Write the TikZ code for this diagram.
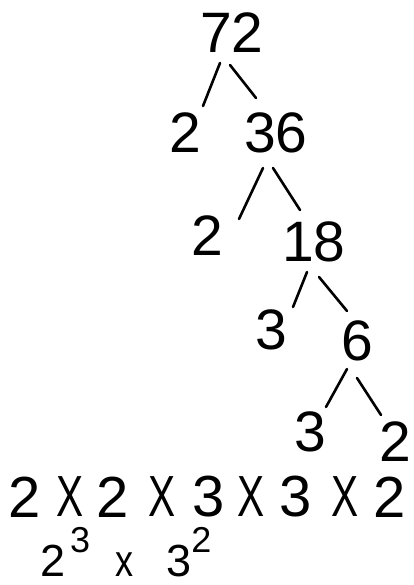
\documentclass[tikz,border=0pt]{standalone}
\usepackage{fontspec}
\setmainfont{Liberation Sans}
\usetikzlibrary{calc}
\tikzset{
  num/.style={inner sep=0pt, font=\fontsize{57}{57}\selectfont},
  bignum/.style={inner sep=0pt, font=\fontsize{58}{58}\selectfont},
  powform/.style={inner sep=0pt, font=\fontsize{45}{45}\selectfont},
  branch/.style={line width=2.6pt, line cap=round, black}
}
\newcommand{\tallx}{\scalebox{0.7}[1]{X}}
\newcommand{\supnum}[1]{\raisebox{24pt}{\fontsize{36}{36}\selectfont #1}}
\begin{document}
\begin{tikzpicture}[x=1pt,y=-1pt]
\useasboundingbox (0,0) rectangle (414,585);
% tree
\node[num] (n72) at (232,33) {72};
\node[num] (n2a) at (185,133) {2};
\node[num] (n36) at (276,133) {36};
\node[num] (n2b) at (207,236) {2};
\node[num] (n18) at (314,242) {18};
\node[num] (n3a) at (271,330) {3};
\node[num] (n6) at (357,341) {6};
\node[num] (n3b) at (310,432) {3};
\node[num] (n2c) at (395,442) {2};
\draw[branch] ($(n72)+(-12,30)$) -- ($(n2a)+(18,-27)$);
\draw[branch] ($(n72)+(-2,32)$) -- ($(n36)+(-20,-35)$);
\draw[branch] ($(n36)+(-13,35)$) -- ($(n2b)+(32,-17)$);
\draw[branch] ($(n36)+(-3,35)$) -- ($(n18)+(-14,-32)$);
\draw[branch] ($(n18)+(-7,30)$) -- ($(n3a)+(22,-23)$);
\draw[branch] ($(n18)+(5,35)$) -- ($(n6)+(-10,-30)$);
\draw[branch] ($(n6)+(-10,28)$) -- ($(n3b)+(16,-25)$);
\draw[branch] ($(n6)+(0,37)$) -- ($(n2c)+(-14,-27)$);
% product row
\node[bignum] (r1) at (25,497) {2};
\node[bignum] (r2) at (70,497) {\tallx};
\node[bignum] (r3) at (113,497) {2};
\node[bignum] (r4) at (162,497) {\tallx};
\node[bignum] (r5) at (209,497) {3};
\node[bignum] (r6) at (251,497) {\tallx};
\node[bignum] (r7) at (296,497) {3};
\node[bignum] (r8) at (345,497) {\tallx};
\node[bignum] (r9) at (390,497) {2};
% power form
\node[powform, anchor=base west] (pw) at (40,576)
  {2\hspace{5pt}\supnum{3}\hspace{25pt}\scalebox{0.8}[1]{x}\hspace{33pt}3\supnum{2}};
\end{tikzpicture}
\end{document}
